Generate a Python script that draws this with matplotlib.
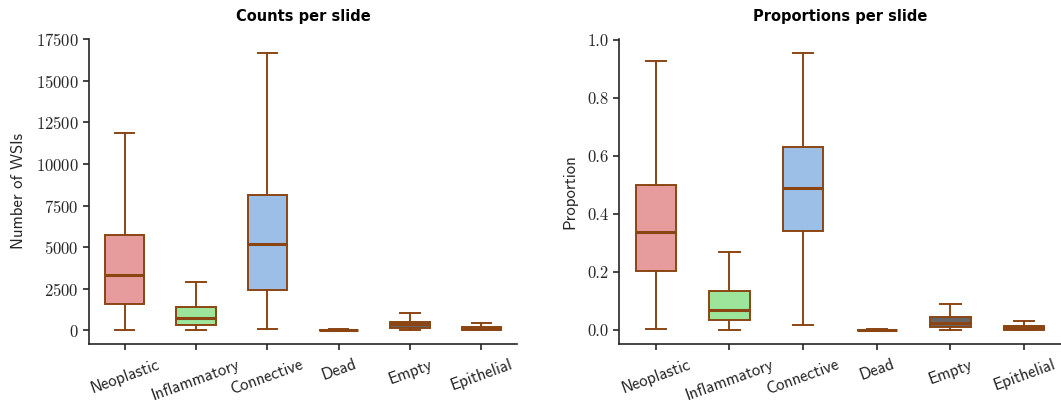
import matplotlib
matplotlib.use("Agg")
import matplotlib.pyplot as plt

categories = ["Neoplastic", "Inflammatory", "Connective", "Dead", "Empty", "Epithelial"]
colors = ["#E69C9C", "#9DE59B", "#9BBFE6", "#3a3a3a", "#666666", "#E8B07A"]

# counts per slide: low whisker, Q1, median, Q3, high whisker
cnt_low = [0, 0, 60, 0, 0, 0]
cnt_q1 = [1585, 342, 2444, 5, 144, 30]
cnt_med = [3345, 763, 5188, 20, 384, 160]
cnt_q3 = [5747, 1381, 8149, 40, 504, 222]
cnt_high = [11855, 2882, 16677, 70, 1021, 462]

# proportions per slide
prop_low = [0.0045, 0.0, 0.018, 0.0, 0.002, 0.0]
prop_q1 = [0.204, 0.035, 0.342, 0.0003, 0.012, 0.001]
prop_med = [0.339, 0.070, 0.488, 0.0008, 0.026, 0.010]
prop_q3 = [0.499, 0.136, 0.631, 0.0015, 0.046, 0.016]
prop_high = [0.926, 0.268, 0.953, 0.003, 0.090, 0.033]

plt.rcParams["axes.formatter.use_mathtext"] = True
plt.rcParams["axes.unicode_minus"] = False
edge = "#8B4513"
dark = "#262626"

fig = plt.figure(figsize=(10.61, 4.04), dpi=100)
ax1 = fig.add_axes([0.0839, 0.1478, 0.4034, 0.7564])
ax2 = fig.add_axes([0.5834, 0.1478, 0.4166, 0.7564])


def draw(ax, low, q1, med, q3, high, title, ylabel):
    stats = []
    for i, c in enumerate(categories):
        stats.append(dict(label=c, whislo=low[i], q1=q1[i], med=med[i], q3=q3[i],
                          whishi=high[i], fliers=[]))
    bp = ax.bxp(stats, positions=range(len(categories)), widths=0.55,
                patch_artist=True, showfliers=False,
                boxprops=dict(edgecolor=edge, linewidth=1.4),
                whiskerprops=dict(color=edge, linewidth=1.4),
                capprops=dict(color=edge, linewidth=1.4),
                medianprops=dict(color=edge, linewidth=2.2))
    for patch, col in zip(bp["boxes"], colors):
        patch.set_facecolor(col)
    ax.set_xlim(-0.5, len(categories) - 0.5)
    ax.set_xticks(range(len(categories)))
    ax.set_xticklabels(categories, rotation=20, family="cmss10", fontsize=12,
                       ha="center", color=dark)
    ax.set_title(title, fontweight="bold", family="DejaVu Sans", fontsize=10.5,
                 color="black", pad=13)
    ax.set_ylabel(ylabel, family="cmss10", fontsize=12, color=dark, labelpad=7)
    for s in ["top", "right"]:
        ax.spines[s].set_visible(False)
    for s in ["left", "bottom"]:
        ax.spines[s].set_color(dark)
        ax.spines[s].set_linewidth(1.2)
    ax.tick_params(colors=dark, width=1.2, length=4)
    ax.tick_params(axis="x", pad=5)


draw(ax1, cnt_low, cnt_q1, cnt_med, cnt_q3, cnt_high, "Counts per slide", "Number of WSIs")
ax1.set_yticks([0, 2500, 5000, 7500, 10000, 12500, 15000, 17500])
ax1.set_ylim(-835, 17535)
for lab in ax1.get_yticklabels():
    lab.set_family("cmr10"); lab.set_fontsize(12); lab.set_color(dark)

draw(ax2, prop_low, prop_q1, prop_med, prop_q3, prop_high, "Proportions per slide", "Proportion")
ax2.set_yticks([0.0, 0.2, 0.4, 0.6, 0.8, 1.0])
ax2.set_yticklabels(["0.0", "0.2", "0.4", "0.6", "0.8", "1.0"])
ax2.set_ylim(-0.048, 1.003)
for lab in ax2.get_yticklabels():
    lab.set_family("cmr10"); lab.set_fontsize(12); lab.set_color(dark)

fig.savefig("out.png", dpi=100)
